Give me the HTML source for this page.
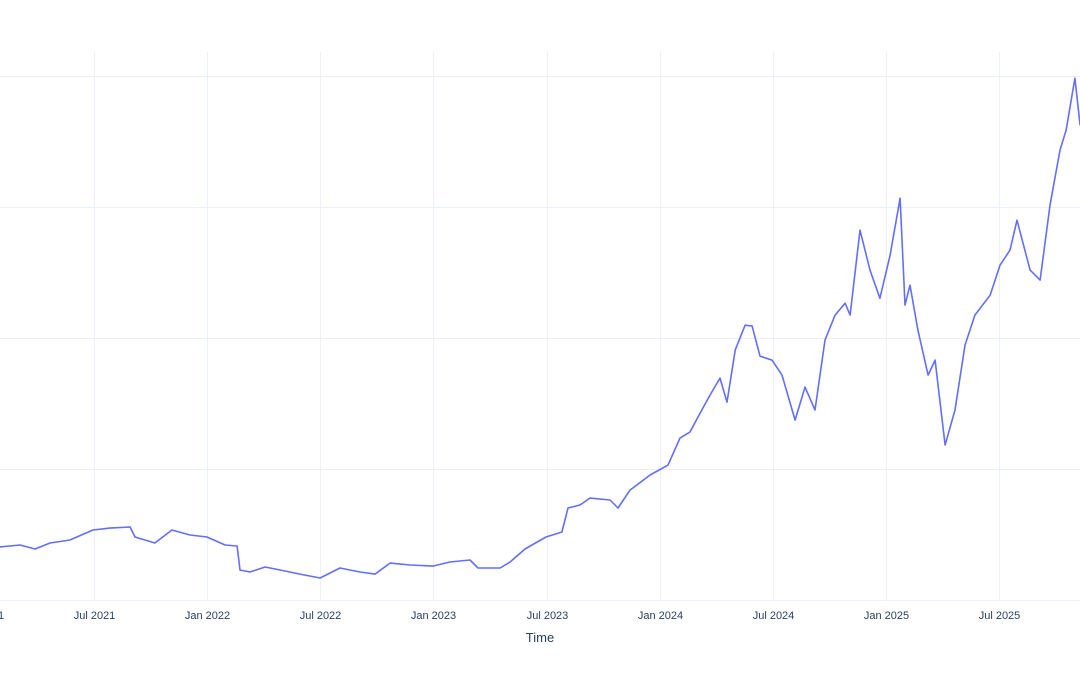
<!DOCTYPE html>
<html><head><meta charset="utf-8"><style>
html,body{margin:0;padding:0;background:#fff;}
svg{display:block;font-family:"Liberation Sans",sans-serif;}
</style></head><body>
<svg id="chart" width="1080" height="675" viewBox="0 0 1080 675">
<g id="grid"></g>
<line x1="0" x2="1080" y1="600.5" y2="600.5" stroke="#ebf0f8" stroke-width="1"/>
<g id="xticks"></g>
<path id="series" fill="none" stroke="#636efa" stroke-width="1.6" stroke-linejoin="round"/>
<text x="540" y="642" text-anchor="middle" font-size="13" fill="#2a3f5f">Time</text>
</svg>
<script>
const times = [2021.084,2021.172,2021.239,2021.305,2021.393,2021.495,2021.570,2021.659,2021.681,2021.769,2021.844,2021.924,2021.999,2022.079,2022.132,2022.145,2022.189,2022.256,2022.344,2022.410,2022.499,2022.587,2022.676,2022.742,2022.808,2022.897,2022.998,2023.073,2023.162,2023.197,2023.295,2023.339,2023.405,2023.498,2023.568,2023.595,2023.648,2023.692,2023.781,2023.816,2023.869,2023.958,2024.037,2024.090,2024.134,2024.179,2024.223,2024.267,2024.298,2024.334,2024.378,2024.409,2024.444,2024.497,2024.541,2024.599,2024.643,2024.687,2024.731,2024.776,2024.820,2024.842,2024.886,2024.930,2024.974,2025.019,2025.063,2025.085,2025.107,2025.142,2025.187,2025.218,2025.262,2025.306,2025.350,2025.394,2025.461,2025.505,2025.549,2025.580,2025.638,2025.682,2025.726,2025.770,2025.797,2025.836,2025.859];
const values = [40.5,42,38.9,43.5,45.8,53.4,54.9,55.7,48.1,43.5,53.4,49.6,48.1,42,41.2,22.9,21.4,25.2,22.1,19.8,16.8,24.4,21.4,19.8,28.2,26.7,25.9,29,30.5,24.4,24.4,29,38.9,48.1,51.9,70.2,72.5,77.8,76.3,70.2,83.9,95.4,103,123.6,128.2,142.7,156.4,169.4,151.1,190.8,209.8,209.1,186.2,183.1,171.7,137.3,162.5,145,198.4,217.5,226.6,217.5,282.3,251.8,230.4,263.2,306.7,225.1,240.3,206,171.7,183.1,118.3,145,194.6,217.5,232.7,255.6,267.1,289.9,251.8,244.2,301.4,343.4,358.6,398.3,362.4];
const xTickVals = [2021.0,2021.5,2022.0,2022.5,2023.0,2023.5,2024.0,2024.5,2025.0,2025.5];
const xTickLabels = ["Jan 2021","Jul 2021","Jan 2022","Jul 2022","Jan 2023","Jul 2023","Jan 2024","Jul 2024","Jan 2025","Jul 2025"];
const yTickVals = [100,200,300,400];

const NS="http://www.w3.org/2000/svg";
const xS = t => -19 + (t-2021)*226.2;
const yS = v => 600 - v*1.31;
const grid=document.getElementById('grid'), xt=document.getElementById('xticks');
yTickVals.forEach(v=>{
  const l=document.createElementNS(NS,'line');
  
  
  l.setAttribute('x1',0);l.setAttribute('x2',1080);
  l.setAttribute('y1',yS(v)+0.5);l.setAttribute('y2',yS(v)+0.5);
  l.setAttribute('stroke','#ebf0f8');
  grid.appendChild(l);
});
xTickVals.forEach((t,i)=>{
  const x=Math.round(xS(t))+0.5;
  const l=document.createElementNS(NS,'line');
  
  
  l.setAttribute('x1',x);l.setAttribute('x2',x);l.setAttribute('y1',52);l.setAttribute('y2',600);
  l.setAttribute('stroke','#ebf0f8');
  grid.appendChild(l);
  const tx=document.createElementNS(NS,'text');
  
  
  tx.setAttribute('x',x);tx.setAttribute('y',619);
  tx.setAttribute('text-anchor','middle');tx.setAttribute('font-size','11');tx.setAttribute('fill','#2a3f5f');
  tx.textContent=xTickLabels[i];
  xt.appendChild(tx);
});
let d='';
times.forEach((t,i)=>{d+=(i?'L':'M')+xS(t).toFixed(1)+','+yS(values[i]).toFixed(1);});
document.getElementById('series').setAttribute('d',d);
</script>
</body></html>
